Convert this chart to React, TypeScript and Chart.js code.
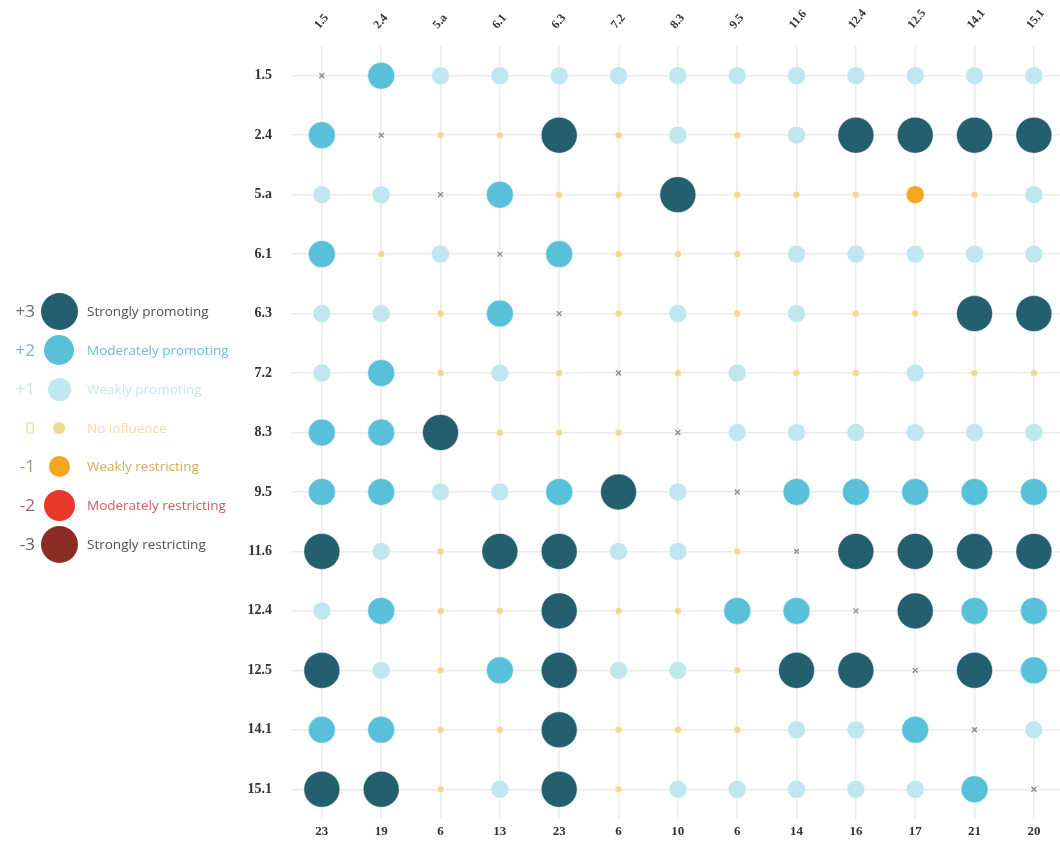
import React, { useEffect, useRef } from "react";
import { Chart, registerables } from "chart.js";
Chart.register(...registerables);

// ---- data ----
const colLabels = ["1.5", "2.4", "5.a", "6.1", "6.3", "7.2", "8.3", "9.5", "11.6", "12.4", "12.5", "14.1", "15.1"];
const rowLabels = ["1.5", "2.4", "5.a", "6.1", "6.3", "7.2", "8.3", "9.5", "11.6", "12.4", "12.5", "14.1", "15.1"];
const colTotals = ["23", "19", "6", "13", "23", "6", "10", "6", "14", "16", "17", "21", "20"];

const row_1_5 = [null, 2, 1, 1, 1, 1, 1, 1, 1, 1, 1, 1, 1];
const row_2_4 = [2, null, 0, 0, 3, 0, 1, 0, 1, 3, 3, 3, 3];
const row_5_a = [1, 1, null, 2, 0, 0, 3, 0, 0, 0, -1, 0, 1];
const row_6_1 = [2, 0, 1, null, 2, 0, 0, 0, 1, 1, 1, 1, 1];
const row_6_3 = [1, 1, 0, 2, null, 0, 1, 0, 1, 0, 0, 3, 3];
const row_7_2 = [1, 2, 0, 1, 0, null, 0, 1, 0, 0, 1, 0, 0];
const row_8_3 = [2, 2, 3, 0, 0, 0, null, 1, 1, 1, 1, 1, 1];
const row_9_5 = [2, 2, 1, 1, 2, 3, 1, null, 2, 2, 2, 2, 2];
const row_11_6 = [3, 1, 0, 3, 3, 1, 1, 0, null, 3, 3, 3, 3];
const row_12_4 = [1, 2, 0, 0, 3, 0, 0, 2, 2, null, 3, 2, 2];
const row_12_5 = [3, 1, 0, 2, 3, 1, 1, 0, 3, 3, null, 3, 2];
const row_14_1 = [2, 2, 0, 0, 3, 0, 0, 0, 1, 1, 2, null, 1];
const row_15_1 = [3, 3, 0, 1, 3, 0, 1, 1, 1, 1, 1, 2, null];

const rows = [row_1_5, row_2_4, row_5_a, row_6_1, row_6_3, row_7_2, row_8_3, row_9_5, row_11_6, row_12_4, row_12_5, row_14_1, row_15_1];

const legendLevels = ["+3", "+2", "+1", "0", "-1", "-2", "-3"];
const legendNames = [
  "Strongly promoting",
  "Moderately promoting",
  "Weakly promoting",
  "No influence",
  "Weakly restricting",
  "Moderately restricting",
  "Strongly restricting",
];

// ---- styles ----
const fillColor: Record<string, string> = {
  "3": "#245f70",
  "2": "#58c0d9",
  "1": "#c0e6ef",
  "0": "#efd98c",
  "-1": "#f4a623",
  "-2": "#e8382b",
  "-3": "#8b2c25",
};
const radiusOf: Record<string, number> = {
  "3": 18,
  "2": 13.5,
  "1": 9,
  "0": 3.5,
  "-1": 9,
  "-2": 13.5,
  "-3": 18,
};
const legendFill = ["#245f70", "#58c0d9", "#c0e6ef", "#efd98c", "#f4a623", "#e8382b", "#8b2c25"];
const legendDiam = [37, 30, 23, 12, 21, 31, 37];
const legendNumColor = ["#6a6f72", "#7ab9ca", "#cbe4ea", "#f0dca2", "#a89075", "#8f6a66", "#5e5e5e"];
const legendTextColor = ["#4a5257", "#6fbdd2", "#c9e6ee", "#f0dca2", "#d8aa5a", "#cf5a66", "#4e4e4e"];

export default function App() {
  const ref = useRef<HTMLCanvasElement | null>(null);

  useEffect(() => {
    if (!ref.current) return;
    const pts: any[] = [];
    rows.forEach((row, ri) =>
      row.forEach((v, ci) => pts.push({ x: ci, y: ri, v }))
    );
    const setTicks = (n: number) => (scale: any) => {
      scale.ticks = Array.from({ length: n }, (_, i) => ({ value: i }));
    };
    const isDiag = (ctx: any) => ctx.raw && ctx.raw.v === null;
    const chart = new Chart(ref.current, {
      type: "scatter",
      data: {
        datasets: [
          {
            data: pts,
            clip: false,
            pointStyle: (ctx: any) => (isDiag(ctx) ? "crossRot" : "circle"),
            pointRadius: (ctx: any) => (isDiag(ctx) ? 3.5 : radiusOf[String(ctx.raw?.v)]),
            pointHoverRadius: (ctx: any) => (isDiag(ctx) ? 3.5 : radiusOf[String(ctx.raw?.v)]),
            backgroundColor: (ctx: any) => (isDiag(ctx) ? "#888" : fillColor[String(ctx.raw?.v)]),
            borderColor: (ctx: any) => (isDiag(ctx) ? "#8a8a8a" : "rgba(255,255,255,0.5)"),
            borderWidth: (ctx: any) => (isDiag(ctx) ? 1.3 : 1),
          } as any,
        ],
      },
      options: {
        responsive: false,
        animation: false,
        events: [],
        layout: { padding: 0, autoPadding: false },
        plugins: { legend: { display: false }, tooltip: { enabled: false } },
        scales: {
          x: {
            type: "linear",
            position: "top",
            min: -0.52,
            max: 12.44,
            afterBuildTicks: setTicks(13),
            afterFit: (s: any) => {
              s.height = 46;
              s.paddingLeft = 0;
              s.paddingRight = 0;
            },
            grid: { color: "#ebebeb", lineWidth: 1.5, drawTicks: false },
            border: { display: false },
            ticks: {
              minRotation: 50,
              maxRotation: 50,
              padding: 14,
              labelOffset: 6,
              color: "#333",
              font: { family: "'Liberation Serif', serif", weight: "bold", size: 12 },
              callback: (v: any) => colLabels[v as number],
            },
          },
          x2: {
            type: "linear",
            position: "bottom",
            min: -0.52,
            max: 12.44,
            afterBuildTicks: setTicks(13),
            afterFit: (s: any) => {
              s.height = 31;
              s.paddingLeft = 0;
              s.paddingRight = 0;
            },
            grid: { display: false, drawTicks: false },
            border: { display: false },
            ticks: {
              maxRotation: 0,
              minRotation: 0,
              padding: 5,
              color: "#333",
              font: { family: "'Liberation Serif', serif", weight: "bold", size: 13 },
              callback: (v: any) => colTotals[v as number],
            },
          },
          y: {
            type: "linear",
            reverse: true,
            min: -0.5,
            max: 12.5,
            afterBuildTicks: setTicks(13),
            afterFit: (s: any) => {
              s.width = 291;
              s.paddingTop = 0;
              s.paddingBottom = 0;
            },
            grid: { color: "#ebebeb", lineWidth: 1.5, drawTicks: false },
            border: { display: false },
            ticks: {
              padding: 19,
              color: "#333",
              font: { family: "'Liberation Serif', serif", weight: "bold", size: 14 },
              callback: (v: any) => rowLabels[v as number],
            },
          },
        },
      } as any,
    });
    return () => chart.destroy();
  }, []);

  const legendY = [311, 350, 389, 428, 466, 505, 544];

  return (
    <div style={{ position: "fixed", left: 0, top: 0, width: 1060, height: 850, background: "#fff" }}>
      <canvas ref={ref} width={1060} height={850} style={{ position: "absolute", left: 0, top: 0, width: 1060, height: 850 }} />
      {legendLevels.map((lv, i) => (
        <React.Fragment key={lv}>
          <div
            style={{
              position: "absolute",
              left: 0,
              width: 35,
              top: legendY[i] - 12,
              height: 24,
              lineHeight: "24px",
              textAlign: "right",
              fontFamily: "'Open Sans', sans-serif",
              fontSize: 17,
              color: legendNumColor[i],
            }}
          >
            {lv}
          </div>
          <div
            style={{
              position: "absolute",
              left: 59 - legendDiam[i] / 2,
              top: legendY[i] - legendDiam[i] / 2,
              width: legendDiam[i],
              height: legendDiam[i],
              borderRadius: "50%",
              background: legendFill[i],
            }}
          />
          <div
            style={{
              position: "absolute",
              left: 87,
              top: legendY[i] - 11,
              height: 22,
              lineHeight: "22px",
              whiteSpace: "nowrap",
              fontFamily: "'Open Sans', sans-serif",
              fontSize: 13.5,
              color: legendTextColor[i],
            }}
          >
            {legendNames[i]}
          </div>
        </React.Fragment>
      ))}
    </div>
  );
}
